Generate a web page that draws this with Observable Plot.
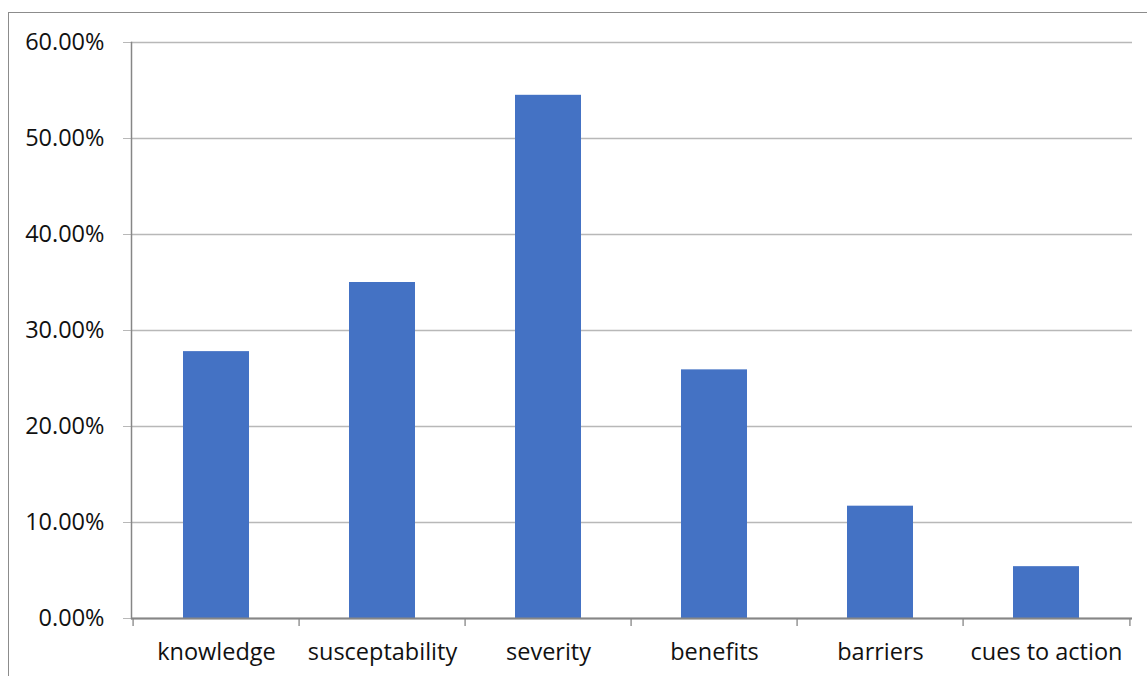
<!DOCTYPE html>
<html>
<head>
<meta charset="utf-8">
<script src="https://cdn.jsdelivr.net/npm/d3@7"></script>
<script src="https://cdn.jsdelivr.net/npm/@observablehq/plot@0.6"></script>
<style>
  html, body { margin: 0; padding: 0; background: #fff; overflow: hidden; }
  #wrap { position: relative; width: 1147px; height: 676px; }
  #border { position: absolute; left: 8px; top: 12px; width: 1160px; height: 700px;
            border-left: 1.5px solid #8c8c8c; border-top: 1.5px solid #8c8c8c; box-sizing: border-box; }
  #chart { position: absolute; left: 0; top: 0; }
</style>
</head>
<body>
<div id="wrap"><div id="border"></div><div id="chart"></div></div>
<script>
const categories = ["knowledge", "susceptability", "severity", "benefits", "barriers", "cues to action"];
const values = [0.278, 0.350, 0.545, 0.259, 0.117, 0.054];
const yTicks = [0, 0.1, 0.2, 0.3, 0.4, 0.5, 0.6];

const data = categories.map((c, i) => ({category: c, value: values[i]}));

const W = 1147, H = 676;
const mL = 131, mR = 15, mT = 42, mB = 58;
const step = (W - mL - mR) / categories.length;
const font = "'Open Sans', Lato, sans-serif";

const plot = Plot.plot({
  width: W,
  height: H,
  marginLeft: mL,
  marginRight: mR,
  marginTop: mT,
  marginBottom: mB,
  style: {fontFamily: font, background: "transparent", overflow: "visible"},
  x: {domain: categories, paddingInner: 0.6, paddingOuter: 0.3, axis: null, label: null},
  y: {domain: [0, 0.6], axis: null, label: null},
  marks: [
    Plot.ruleY(yTicks, {stroke: "#b8b8b8", strokeWidth: 1.3}),
    Plot.axisY({ticks: yTicks, tickSize: 8, tickPadding: 19, stroke: "#b8b8b8", label: null,
                strokeOpacity: 1, tickFormat: d => (d * 100).toFixed(2) + "%",
                fontSize: 23.5, fill: "#111"}),
    Plot.barY(data, {x: "category", y: "value", fill: "#4472C4"}),
    Plot.frame({anchor: "left", stroke: "#868686", strokeWidth: 1.5}),
    Plot.ruleY([0], {stroke: "#868686", strokeWidth: 2}),
    Plot.axisX({ticks: categories, tickSize: 8, text: null, dx: -step / 2, label: null,
                stroke: "#868686", strokeOpacity: 1, strokeWidth: 1.3}),
    Plot.axisX({ticks: categories.slice(-1), tickSize: 8, text: null, dx: step / 2, label: null,
                stroke: "#868686", strokeOpacity: 1, strokeWidth: 1.3}),
    Plot.axisX({ticks: categories, tickSize: 0, tickPadding: 25, fontSize: 23.5, fill: "#111", label: null})
  ]
});
document.getElementById("chart").appendChild(plot);
</script>
</body>
</html>
